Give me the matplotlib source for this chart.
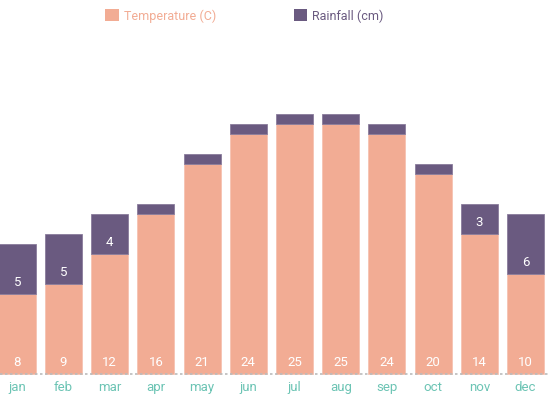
import matplotlib
matplotlib.use("Agg")
import matplotlib.pyplot as plt
from matplotlib.patches import Patch

months = ["jan", "feb", "mar", "apr", "may", "jun", "jul", "aug", "sep", "oct", "nov", "dec"]
temperature = [8, 9, 12, 16, 21, 24, 25, 25, 24, 20, 14, 10]
rainfall = [5, 5, 4, 1, 1, 1, 1, 1, 1, 1, 3, 6]

temp_color = "#F2AC94"
rain_color = "#6A5A80"
tick_color = "#6CC4B4"

plt.rcParams['font.family'] = ['Roboto', 'DejaVu Sans']

fig = plt.figure(figsize=(5.5, 4), dpi=100)
ax = fig.add_axes([0, 0, 1, 1])
ax.set_xlim(-0.374, 11.53)
ax.set_ylim(-2.57, 37.43)
ax.axis("off")

x = list(range(len(months)))
ax.bar(x, temperature, width=0.8, color=temp_color, edgecolor="#F6C3B2", linewidth=0.6, zorder=2)
ax.bar(x, rainfall, bottom=temperature, width=0.8, color=rain_color, edgecolor="#8A7C9C", linewidth=0.6, zorder=2)

ax.axhline(0, color="#BBBBBB", linestyle=(0, (1.5, 1.5)), linewidth=1.2, zorder=3)

for i in x:
    ax.text(i, 1.2, str(temperature[i]), color="white", ha="center", va="center", fontsize=9.5, zorder=4)
    if rainfall[i] >= 3:
        ax.text(i, temperature[i] + 1.2, str(rainfall[i]), color="white", ha="center", va="center", fontsize=9.5, zorder=4)
    ax.text(i, -1.35, months[i], color=tick_color, ha="center", va="center", fontsize=9.5)

handles = [Patch(facecolor=temp_color, edgecolor="none", label="Temperature (C)"),
           Patch(facecolor=rain_color, edgecolor="none", label="Rainfall (cm)")]
leg = fig.legend(handles=handles, loc="center left", bbox_to_anchor=(105 / 550, 1 - 16 / 400),
                 ncol=2, frameon=False, fontsize=9, handlelength=1.1, handleheight=1.1,
                 handletextpad=0.4, columnspacing=6.2, borderpad=0, borderaxespad=0)
for t, c in zip(leg.get_texts(), [temp_color, rain_color]):
    t.set_color(c)

fig.savefig("out.png", dpi=100)
